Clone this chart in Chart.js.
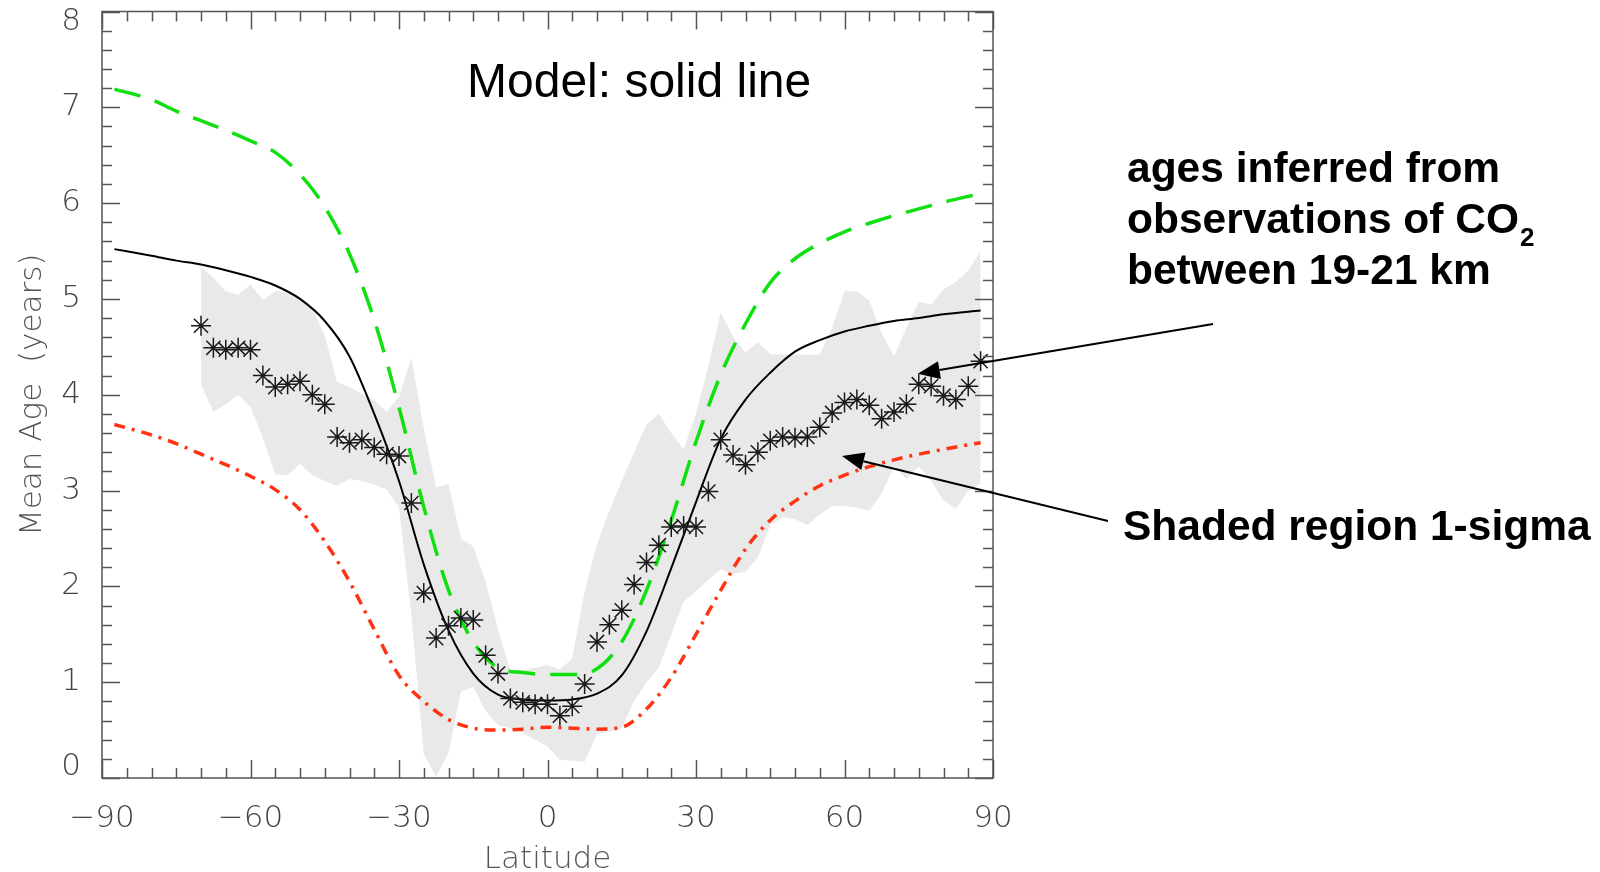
<!DOCTYPE html>
<html lang="en">
<head>
    <meta charset="UTF-8">
    <title>Mean Age vs Latitude</title>
    <style>
        html, body { margin: 0; padding: 0; background: #fff; }
        #chartBox { width: 1600px; height: 872px; }
    </style>
</head>
<body>
    <div id="chartBox">
        <canvas id="ageChart" width="1600" height="872"></canvas>
    </div>

    <script src="https://cdn.jsdelivr.net/npm/chart.js"></script>

    <script>
        // model curves (latitude grid)
        const modelLat = [-87.5, -80, -75, -70, -65, -60, -55, -50, -45, -40, -35, -30, -25, -20, -15, -10, -5, 0,
            5, 10, 15, 20, 25, 30, 35, 40, 45, 50, 55, 60, 65, 70, 75, 80, 87.5];
        const modelAge = [5.52, 5.45, 5.40, 5.36, 5.30, 5.23, 5.14, 5.00, 4.77, 4.40, 3.80, 3.10, 2.23, 1.54, 1.09, 0.87, 0.82, 0.81,
            0.82, 0.88, 1.07, 1.53, 2.19, 2.88, 3.54, 3.95, 4.23, 4.45, 4.57, 4.66, 4.72, 4.77, 4.80, 4.84, 4.88];
        const greenAge = [7.19, 7.08, 6.96, 6.86, 6.76, 6.65, 6.53, 6.30, 5.96, 5.47, 4.78, 3.87, 2.83, 1.96, 1.42, 1.15, 1.10, 1.08,
            1.08, 1.14, 1.42, 1.96, 2.69, 3.51, 4.21, 4.74, 5.17, 5.42, 5.58, 5.70, 5.79, 5.87, 5.94, 6.01, 6.10];
        const redAge = [3.69, 3.58, 3.49, 3.38, 3.27, 3.15, 3.01, 2.80, 2.47, 2.05, 1.55, 1.07, 0.80, 0.61, 0.52, 0.50, 0.51, 0.53,
            0.52, 0.51, 0.53, 0.72, 1.05, 1.50, 1.96, 2.39, 2.69, 2.89, 3.05, 3.16, 3.25, 3.32, 3.38, 3.43, 3.50];

        // CO2 derived ages and 1-sigma band
        const obsLat = [-70, -67.5, -65, -62.5, -60, -57.5, -55, -52.5, -50, -47.5, -45, -42.5, -40, -37.5, -35, -32.5,
            -30, -27.5, -25, -22.5, -20, -17.5, -15, -12.5, -10, -7.5, -5, -2.5, 0, 2.5, 5, 7.5,
            10, 12.5, 15, 17.5, 20, 22.5, 25, 27.5, 30, 32.5, 35, 37.5, 40, 42.5, 45, 47.5,
            50, 52.5, 55, 57.5, 60, 62.5, 65, 67.5, 70, 72.5, 75, 77.5, 80, 82.5, 85, 87.5];
        const obsAge = [4.72, 4.49, 4.47, 4.49, 4.47, 4.20, 4.08, 4.11, 4.14, 4.00, 3.90, 3.56, 3.50, 3.53, 3.45, 3.38,
            3.36, 2.87, 1.93, 1.46, 1.59, 1.67, 1.65, 1.28, 1.09, 0.83, 0.79, 0.77, 0.77, 0.65, 0.75, 0.98,
            1.42, 1.60, 1.75, 2.02, 2.25, 2.43, 2.62, 2.63, 2.62, 2.99, 3.53, 3.37, 3.27, 3.40, 3.52, 3.56,
            3.55, 3.56, 3.66, 3.81, 3.92, 3.95, 3.89, 3.75, 3.82, 3.90, 4.11, 4.09, 3.99, 3.95, 4.09, 4.35];
        const sigmaHigh = [5.33, 5.22, 5.08, 5.04, 5.15, 4.99, 5.08, 5.07, 5.00, 4.90, 4.62, 4.13, 4.08, 4.01, 3.94, 3.82,
            3.98, 4.39, 3.65, 3.03, 3.07, 2.50, 2.42, 2.05, 1.55, 1.12, 1.13, 1.15, 1.18, 1.13, 1.25, 1.95,
            2.44, 2.79, 3.10, 3.40, 3.69, 3.80, 3.60, 3.43, 3.80, 4.30, 4.86, 4.60, 4.44, 4.55, 4.42, 4.42,
            4.42, 4.42, 4.42, 4.70, 5.08, 5.08, 4.98, 4.65, 4.40, 4.70, 4.97, 4.94, 5.10, 5.18, 5.30, 5.50];
        const sigmaLow = [4.11, 3.82, 3.90, 4.00, 3.87, 3.55, 3.17, 3.16, 3.28, 3.16, 3.10, 3.05, 3.12, 3.10, 3.06, 3.01,
            2.82, 1.70, 0.25, 0.01, 0.26, 0.90, 0.95, 0.70, 0.55, 0.52, 0.47, 0.40, 0.33, 0.19, 0.18, 0.17,
            0.46, 0.48, 0.52, 0.80, 1.00, 1.15, 1.50, 1.84, 1.95, 2.07, 2.18, 2.13, 2.15, 2.30, 2.64, 2.72,
            2.70, 2.64, 2.75, 2.84, 2.84, 2.82, 2.79, 2.97, 3.25, 3.12, 3.25, 3.10, 2.90, 2.81, 3.00, 3.07];

        const xTicks = [-90, -60, -30, 0, 30, 60, 90];
        const yTicks = [0, 1, 2, 3, 4, 5, 6, 7, 8];

        const pts = (xs, ys) => xs.map((x, i) => ({ x: x, y: ys[i] }));
        const axisFamily = '"DejaVu Sans ExtraLight", "DejaVu Sans", sans-serif';

        // IDL-like frame: inward ticks on all four sides
        const frameTicks = {
            id: 'frameTicks',
            afterDatasetsDraw(chart) {
                const { ctx, chartArea: a, scales: { x, y } } = chart;
                ctx.save();
                ctx.strokeStyle = '#555';
                ctx.lineWidth = 1.5;
                ctx.beginPath();
                for (let v = -90; v <= 90; v += 5) {
                    const px = Math.round(x.getPixelForValue(v)) + 0.5;
                    const len = xTicks.includes(v) ? 18 : 10;
                    ctx.moveTo(px, a.bottom); ctx.lineTo(px, a.bottom - len);
                    ctx.moveTo(px, a.top); ctx.lineTo(px, a.top + len);
                }
                for (let k = 0; k <= 40; k++) {
                    const py = Math.round(y.getPixelForValue(k / 5)) + 0.5;
                    const len = k % 5 === 0 ? 18 : 10;
                    ctx.moveTo(a.left, py); ctx.lineTo(a.left + len, py);
                    ctx.moveTo(a.right, py); ctx.lineTo(a.right - len, py);
                }
                ctx.stroke();
                ctx.strokeRect(a.left, a.top, a.right - a.left, a.bottom - a.top);
                ctx.restore();
            }
        };

        function arrow(ctx, x0, y0, x1, y1) {
            const ang = Math.atan2(y1 - y0, x1 - x0);
            const L = 22, W = 9;
            ctx.beginPath();
            ctx.moveTo(x0, y0);
            ctx.lineTo(x1 - L * Math.cos(ang), y1 - L * Math.sin(ang));
            ctx.stroke();
            ctx.beginPath();
            ctx.moveTo(x1, y1);
            ctx.lineTo(x1 - L * Math.cos(ang) + W * Math.sin(ang), y1 - L * Math.sin(ang) - W * Math.cos(ang));
            ctx.lineTo(x1 - L * Math.cos(ang) - W * Math.sin(ang), y1 - L * Math.sin(ang) + W * Math.cos(ang));
            ctx.closePath();
            ctx.fill();
        }

        const notes = {
            id: 'notes',
            afterDraw(chart) {
                const { ctx, scales: { x, y } } = chart;
                const bold = 'bold 42.5px "Liberation Sans", Arial, sans-serif';
                ctx.save();
                ctx.fillStyle = '#000';
                ctx.textBaseline = 'alphabetic';
                ctx.font = '48px "Liberation Sans", Arial, sans-serif';
                ctx.fillText('Model: solid line', 467, 97);

                ctx.font = bold;
                ctx.fillText('ages inferred from', 1127, 182);
                ctx.fillText('observations of CO', 1127, 233);
                const w = ctx.measureText('observations of CO').width;
                ctx.font = 'bold 26px "Liberation Sans", Arial, sans-serif';
                ctx.fillText('2', 1127 + w + 1, 246);
                ctx.font = bold;
                ctx.fillText('between 19-21 km', 1127, 284);
                ctx.fillText('Shaded region 1-sigma', 1123, 540);

                ctx.strokeStyle = '#000';
                ctx.lineWidth = 2;
                arrow(ctx, 1213, 324, x.getPixelForValue(74.8), y.getPixelForValue(4.22));
                arrow(ctx, 1108, 521, x.getPixelForValue(59.5), y.getPixelForValue(3.36));
                ctx.restore();
            }
        };

        const ctx = document.getElementById('ageChart').getContext('2d');
        const chart = new Chart(ctx, {
            type: 'line',
            data: {
                datasets: [
                    {
                        label: 'obs',
                        data: pts(obsLat, obsAge),
                        showLine: false,
                        pointStyle: 'star',
                        pointRadius: 10,
                        borderColor: '#1a1a1a',
                        backgroundColor: '#1a1a1a',
                        pointBorderWidth: 1.5,
                        order: 0
                    },
                    {
                        label: 'model',
                        data: pts(modelLat, modelAge),
                        borderColor: '#000',
                        borderWidth: 2,
                        pointRadius: 0,
                        cubicInterpolationMode: 'monotone',
                        order: 1
                    },
                    {
                        label: 'green',
                        data: pts(modelLat, greenAge),
                        borderColor: '#10e010',
                        borderWidth: 3.5,
                        borderDash: [27, 15],
                        pointRadius: 0,
                        cubicInterpolationMode: 'monotone',
                        order: 2
                    },
                    {
                        label: 'red',
                        data: pts(modelLat, redAge),
                        borderColor: '#ff3311',
                        borderWidth: 3.5,
                        borderDash: [11, 7, 3, 7],
                        pointRadius: 0,
                        cubicInterpolationMode: 'monotone',
                        order: 3
                    },
                    {
                        label: 'sigmaHigh',
                        data: pts(obsLat, sigmaHigh),
                        borderWidth: 0,
                        borderColor: 'rgba(0,0,0,0)',
                        backgroundColor: '#e9e9e9',
                        pointRadius: 0,
                        fill: '+1',
                        order: 10
                    },
                    {
                        label: 'sigmaLow',
                        data: pts(obsLat, sigmaLow),
                        borderWidth: 0,
                        borderColor: 'rgba(0,0,0,0)',
                        pointRadius: 0,
                        fill: false,
                        order: 11
                    }
                ]
            },
            options: {
                responsive: false,
                animation: false,
                layout: { padding: { left: 0, right: 607, top: 10, bottom: 0 } },
                plugins: {
                    legend: { display: false },
                    tooltip: { enabled: false },
                    filler: { propagate: false }
                },
                scales: {
                    x: {
                        type: 'linear',
                        min: -90,
                        max: 90,
                        grid: { display: false },
                        border: { display: false },
                        afterBuildTicks: s => { s.ticks = xTicks.map(v => ({ value: v })); },
                        ticks: {
                            color: '#444',
                            font: { family: axisFamily, size: 31, weight: 200 },
                            padding: 14,
                            maxRotation: 0,
                            callback: v => String(v).replace('-', '\u2212')
                        },
                        title: {
                            display: true,
                            text: 'Latitude',
                            color: '#555',
                            font: { family: axisFamily, size: 31, weight: 200, lineHeight: 0.8 },
                            padding: { top: 0, bottom: 0 }
                        },
                        afterFit: s => { s.height = 94; s.paddingLeft = 0; s.paddingRight = 0; }
                    },
                    y: {
                        type: 'linear',
                        min: 0,
                        max: 8,
                        grid: { display: false },
                        border: { display: false },
                        afterBuildTicks: s => { s.ticks = yTicks.map(v => ({ value: v })); },
                        ticks: {
                            color: '#444',
                            font: { family: axisFamily, size: 31, weight: 200, lineHeight: 0.7 },
                            padding: 13,
                            // end labels sit just inside the frame, as in the original
                            callback: v => v === 8 ? ['', '8'] : v === 0 ? ['0', ''] : String(v)
                        },
                        title: {
                            display: true,
                            text: 'Mean Age  (years)',
                            color: '#555',
                            font: { family: axisFamily, size: 31, weight: 200, lineHeight: 1.2 },
                            padding: { top: 14, bottom: 0 }
                        },
                        afterFit: s => { s.width = 102; s.paddingTop = 0; s.paddingBottom = 0; }
                    }
                }
            },
            plugins: [frameTicks, notes]
        });
    </script>
</body>
</html>
